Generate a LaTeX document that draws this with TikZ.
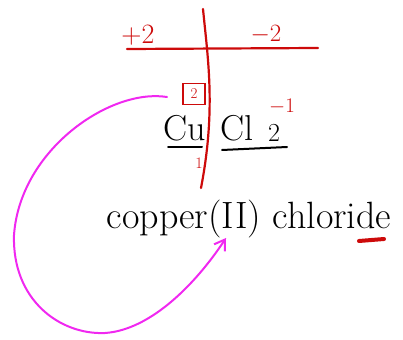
\documentclass[tikz,border=0pt]{standalone}
\usepackage{tikz}
\usetikzlibrary{positioning,arrows.meta}
\definecolor{pen}{RGB}{205,10,10}
\definecolor{hilite}{RGB}{240,40,240}

\begin{document}
\begin{tikzpicture}[x=1pt,y=-1pt,
  ink/.style={font=\fontsize{36}{38}\selectfont, text=black, inner sep=0pt, anchor=base},
  redink/.style={font=\fontsize{28}{30}\selectfont, text=pen, inner sep=0pt, anchor=base},
  rule/.style={draw=pen, line width=2.2pt, line cap=round},
  under/.style={draw=black, line width=2pt, line cap=round},
  arr/.style={draw=hilite, line width=2pt, line cap=round, -{Straight Barb[length=10pt,width=13pt]}}
]
\useasboundingbox (0,0) rectangle (403,339);

% charge table
\coordinate (hl) at (127,49);
\coordinate (hr) at (318,48);
\coordinate (vt) at (203,9);
\coordinate (vb) at (201,188);
\node[redink] (plus) at (138,44) {+2};
\node[redink] (minus) at (266,42) {$-2$};

% formula
\node[ink] (cu) at (185,140) {Cu};
\node[ink] (cl) at (237,140) {Cl};
\node[ink, font=\fontsize{26}{28}\selectfont] (sub) at (274,141) {2};
\node[redink, font=\fontsize{22}{24}\selectfont] (sup) at (282,113) {$-1$};
\node[draw=pen, line width=1.5pt, text=pen, font=\fontsize{15}{16}\selectfont, minimum width=22pt, minimum height=21pt, inner sep=0pt] (box) at (194,94) {2};
\node[redink, font=\fontsize{16}{18}\selectfont] (one) at (199,168) {1};

% name
\node[ink, font=\fontsize{38}{40}\selectfont] (name) at (249,228) {copper(II) chloride};
\coordinate (tail) at (167,97);
\coordinate (head) at (226,238);

\draw[rule] (hl) -- (hr);
\draw[rule] (vt) .. controls (208,60) and (216,110) .. (vb);
\draw[under] (168,147) -- (202,147);
\draw[under] (222,150) -- (287,147);
\draw[draw=pen, line width=4pt, line cap=round] (359,241) -- (384,239);

\draw[arr] (tail) .. controls (110,88) and (20,150) .. (14,235)
  .. controls (12,300) and (60,335) .. (105,333)
  .. controls (150,330) and (195,285) .. (head);
\end{tikzpicture}
\end{document}
